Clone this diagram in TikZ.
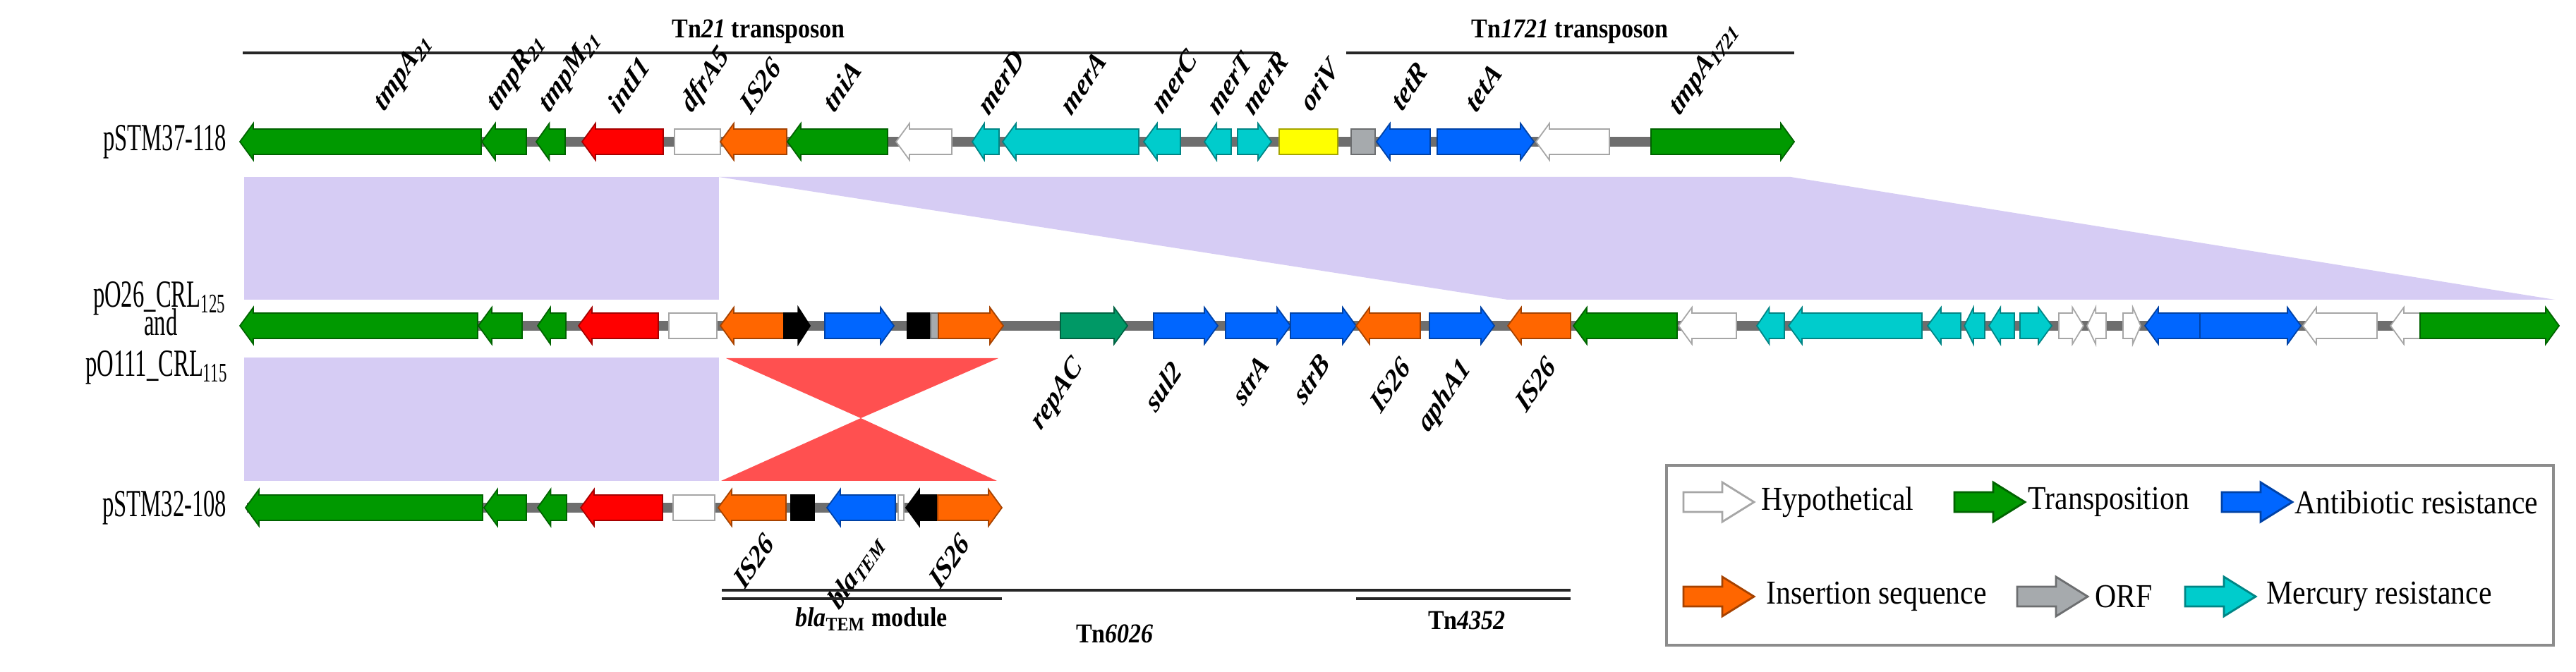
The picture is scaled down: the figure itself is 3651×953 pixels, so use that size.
\documentclass[tikz,border=0pt]{standalone}
\usepackage{fontspec}
\setmainfont{Liberation Serif}
\usepackage{xcolor}
\usepackage{graphicx}

% gene arrows: left end, right end, centre line, colour
\newcommand{\fwdgene}[4]{%
  \pgfmathsetmacro{\headlen}{min(19,0.45*(#2-#1))}
  \filldraw[gene, fill=#4, draw=#4!65!black] (#1,#3-18) -- (#2-\headlen,#3-18) -- (#2-\headlen,#3-26) -- (#2,#3) -- (#2-\headlen,#3+26) -- (#2-\headlen,#3+18) -- (#1,#3+18) -- cycle;}
\newcommand{\revgene}[4]{%
  \pgfmathsetmacro{\headlen}{min(19,0.45*(#2-#1))}
  \filldraw[gene, fill=#4, draw=#4!65!black] (#2,#3-18) -- (#1+\headlen,#3-18) -- (#1+\headlen,#3-26) -- (#1,#3) -- (#1+\headlen,#3+26) -- (#1+\headlen,#3+18) -- (#2,#3+18) -- cycle;}
\newcommand{\boxgene}[4]{%
  \filldraw[gene, fill=#4, draw=#4!65!black] (#1,#3-18) rectangle (#2,#3+18);}
% legend arrow: left end, centre line, colour
\newcommand{\keyarrow}[3]{%
  \filldraw[gene, line width=0.8pt, fill=#3, draw=#3!65!black] (#1,#2-14) -- (#1+55,#2-14) -- (#1+55,#2-28) -- (#1+100,#2) -- (#1+55,#2+28) -- (#1+55,#2+14) -- (#1,#2+14) -- cycle;}
% slanted, narrow gene names and narrow texts
\newcommand{\genename}[1]{\scalebox{0.8}[1]{\rotatebox{50}{#1}}}
\newcommand{\narrowname}[1]{\scalebox{0.6}[1]{#1}}
\newcommand{\slimtext}[1]{\scalebox{0.88}[1]{#1}}

\begin{document}
\begin{tikzpicture}[x=0.1mm, y=-0.1mm,
    gene/.style={line width=0.5pt},
    genelab/.style={font=\fontsize{12.5}{14}\selectfont\bfseries\itshape, inner sep=0pt},
    rowlab/.style={font=\fontsize{15.5}{18}\selectfont, inner sep=0pt},
    barlab/.style={font=\fontsize{11}{13}\selectfont\bfseries, inner sep=0pt},
    keylab/.style={font=\fontsize{13.5}{16}\selectfont, anchor=west, inner sep=0pt},
    bar/.style={line width=1.4pt, black!85}]
    % Define colors
    \definecolor{transgreen}{RGB}{0,153,0}
    \definecolor{intred}{RGB}{255,0,0}
    \definecolor{isorange}{RGB}{255,102,0}
    \definecolor{abblue}{RGB}{0,102,255}
    \definecolor{hgcyan}{RGB}{0,204,204}
    \definecolor{oriyellow}{RGB}{255,255,0}
    \definecolor{orfgray}{RGB}{166,170,173}
    \definecolor{repgreen}{RGB}{0,153,102}
    \definecolor{spine}{RGB}{110,110,110}
    \definecolor{homolog}{RGB}{214,204,244}
    \definecolor{invred}{RGB}{255,80,80}

    \fill[white] (0,0) rectangle (3651,953);
    \useasboundingbox (0,0) rectangle (3651,953);

    % Transposon bars on top
    \draw[bar] (344,75) -- (1807,75);
    \node[barlab] (tn21) at (1075,45) {\slimtext{Tn\textit{21} transposon}};
    \draw[bar] (1908,75) -- (2543,75);
    \node[barlab] (tn1721) at (2225,45) {\slimtext{Tn\textit{1721} transposon}};

    % Shared regions
    \fill[homolog] (346,251) rectangle (1019,425);
    \fill[homolog] (1019,251) -- (2538,251) -- (3621,425) -- (2137,425) -- cycle;
    \fill[homolog] (346,507) rectangle (1019,682);
    % Inverted blaTEM module
    \fill[invred] (1029,508) -- (1415,508) -- (1220,593) -- cycle;
    \fill[invred] (1022,682) -- (1413,682) -- (1220,593) -- cycle;

    % Row labels
    \node[rowlab, anchor=east] (p37) at (322,201) {\narrowname{pSTM37-118}};
    \node[rowlab, anchor=base] (p26) at (226,436) {\narrowname{pO26\_CRL\textsubscript{125}}};
    \node[rowlab, anchor=base] (pand) at (228,476) {\narrowname{and}};
    \node[rowlab, anchor=base] (p111) at (222,534) {\narrowname{pO111\_CRL\textsubscript{115}}};
    \node[rowlab, anchor=east] (p32) at (322,720) {\narrowname{pSTM32-108}};

    % First plasmid: pSTM37-118
    \fill[spine] (345,194) rectangle (2540,208);
    \revgene{340}{682}{201}{transgreen}
    \revgene{683}{746}{201}{transgreen}
    \revgene{760}{801}{201}{transgreen}
    \revgene{825}{940}{201}{intred}
    \boxgene{956}{1021}{201}{white}
    \revgene{1021}{1115}{201}{isorange}
    \revgene{1116}{1258}{201}{transgreen}
    \revgene{1270}{1349}{201}{white}
    \revgene{1378}{1416}{201}{hgcyan}
    \revgene{1421}{1614}{201}{hgcyan}
    \revgene{1621}{1673}{201}{hgcyan}
    \revgene{1707}{1745}{201}{hgcyan}
    \fwdgene{1754}{1802}{201}{hgcyan}
    \boxgene{1813}{1896}{201}{oriyellow}
    \boxgene{1915}{1949}{201}{orfgray}
    \revgene{1951}{2027}{201}{abblue}
    \fwdgene{2037}{2174}{201}{abblue}
    \revgene{2177}{2281}{201}{white}
    \fwdgene{2340}{2543}{201}{transgreen}

    % Gene names above the first plasmid
    \node[genelab, anchor=south west] (g1) at (526,166) {\genename{tmpA\textsubscript{21}}};
    \node[genelab, anchor=south west] (g2) at (686,166) {\genename{tmpR\textsubscript{21}}};
    \node[genelab, anchor=south west] (g3) at (760,168) {\genename{tmpM\textsubscript{21}}};
    \node[genelab, anchor=south west] (g4) at (858,164) {\genename{intI1}};
    \node[genelab, anchor=south west] (g5) at (961,168) {\genename{dfrA5}};
    \node[genelab, anchor=south west] (g6) at (1046,164) {\genename{IS26}};
    \node[genelab, anchor=south west] (g7) at (1163,162) {\genename{tniA}};
    \node[genelab, anchor=south west] (g8) at (1383,166) {\genename{merD}};
    \node[genelab, anchor=south west] (g9) at (1500,166) {\genename{merA}};
    \node[genelab, anchor=south west] (g10) at (1629,164) {\genename{merC}};
    \node[genelab, anchor=south west] (g11) at (1708,166) {\genename{merT}};
    \node[genelab, anchor=south west] (g12) at (1758,166) {\genename{merR}};
    \node[genelab, anchor=south west] (g13) at (1839,162) {\genename{oriV}};
    \node[genelab, anchor=south west] (g14) at (1969,160) {\genename{tetR}};
    \node[genelab, anchor=south west] (g15) at (2074,162) {\genename{tetA}};
    \node[genelab, anchor=south west] (g16) at (2362,172) {\genename{tmpA\textsubscript{1721}}};

    % Second plasmid: pO26_CRL125 and pO111_CRL115
    \fill[spine] (345,455) rectangle (3622,469);
    \revgene{340}{677}{462}{transgreen}
    \revgene{678}{740}{462}{transgreen}
    \revgene{762}{802}{462}{transgreen}
    \revgene{820}{933}{462}{intred}
    \boxgene{948}{1016}{462}{white}
    \revgene{1021}{1111}{462}{isorange}
    \fwdgene{1111}{1148}{462}{black}
    \fwdgene{1169}{1267}{462}{abblue}
    \boxgene{1286}{1319}{462}{black}
    \boxgene{1319}{1330}{462}{orfgray}
    \fwdgene{1330}{1422}{462}{isorange}
    \fwdgene{1503}{1598}{462}{repgreen}
    \fwdgene{1635}{1726}{462}{abblue}
    \fwdgene{1737}{1829}{462}{abblue}
    \fwdgene{1829}{1922}{462}{abblue}
    \revgene{1922}{2013}{462}{isorange}
    \fwdgene{2026}{2118}{462}{abblue}
    \revgene{2137}{2226}{462}{isorange}
    \revgene{2230}{2377}{462}{transgreen}
    \revgene{2379}{2461}{462}{white}
    \revgene{2490}{2529}{462}{hgcyan}
    \revgene{2535}{2724}{462}{hgcyan}
    \revgene{2732}{2779}{462}{hgcyan}
    \revgene{2784}{2813}{462}{hgcyan}
    \revgene{2819}{2855}{462}{hgcyan}
    \fwdgene{2863}{2908}{462}{hgcyan}
    \fwdgene{2918}{2953}{462}{white}
    \revgene{2958}{2985}{462}{white}
    \fwdgene{3009}{3034}{462}{white}
    \revgene{3040}{3118}{462}{abblue}
    \fwdgene{3118}{3261}{462}{abblue}
    \revgene{3264}{3369}{462}{white}
    \revgene{3388}{3430}{462}{white}
    \fwdgene{3430}{3627}{462}{transgreen}

    % Gene names below the second plasmid
    \node[genelab, anchor=north east] (h1) at (1542,502) {\genename{repAC}};
    \node[genelab, anchor=north east] (h2) at (1678,508) {\genename{sul2}};
    \node[genelab, anchor=north east] (h3) at (1802,500) {\genename{strA}};
    \node[genelab, anchor=north east] (h4) at (1888,498) {\genename{strB}};
    \node[genelab, anchor=north east] (h5) at (2002,503) {\genename{IS26}};
    \node[genelab, anchor=north east] (h6) at (2092,503) {\genename{aphA1}};
    \node[genelab, anchor=north east] (h7) at (2208,502) {\genename{IS26}};

    % Third plasmid: pSTM32-108
    \fill[spine] (350,713) rectangle (1415,727);
    \revgene{348}{684}{720}{transgreen}
    \revgene{686}{746}{720}{transgreen}
    \revgene{762}{803}{720}{transgreen}
    \revgene{823}{939}{720}{intred}
    \boxgene{954}{1013}{720}{white}
    \revgene{1018}{1114}{720}{isorange}
    \boxgene{1121}{1154}{720}{black}
    \revgene{1172}{1269}{720}{abblue}
    \boxgene{1273}{1281}{720}{white}
    \revgene{1284}{1329}{720}{black}
    \fwdgene{1329}{1420}{720}{isorange}

    % Gene names below the third plasmid
    \node[genelab, anchor=north east] (k1) at (1100,753) {\genename{IS26}};
    \node[genelab, anchor=north east] (k2) at (1258,751) {\genename{bla\textsubscript{TEM}}};
    \node[genelab, anchor=north east] (k3) at (1377,753) {\genename{IS26}};

    % Module and transposon bars below
    \draw[bar] (1023,837) -- (2226,837);
    \draw[bar] (1023,849) -- (1420,849);
    \draw[bar] (1922,849) -- (2226,849);
    \node[barlab] (blamod) at (1235,878) {\slimtext{\textit{bla}\textsubscript{\upshape TEM} module}};
    \node[barlab] (tn6026) at (1580,899) {\slimtext{Tn\textit{6026}}};
    \node[barlab] (tn4352) at (2079,880) {\slimtext{Tn\textit{4352}}};

    % Legend
    \draw[line width=1.2pt, black!45] (2362,660) rectangle (3619,915);
    \keyarrow{2386}{712}{white}
    \node[keylab] (kh) at (2496,712) {\slimtext{Hypothetical}};
    \keyarrow{2770}{712}{transgreen}
    \node[keylab] (kt) at (2874,712) {\slimtext{Transposition}};
    \keyarrow{3149}{712}{abblue}
    \node[keylab] (ka) at (3252,712) {\slimtext{Antibiotic resistance}};
    \keyarrow{2386}{846}{isorange}
    \node[keylab] (ki) at (2503,846) {\slimtext{Insertion sequence}};
    \keyarrow{2859}{846}{orfgray}
    \node[keylab] (ko) at (2969,846) {\slimtext{ORF}};
    \keyarrow{3097}{846}{hgcyan}
    \node[keylab] (km) at (3212,846) {\slimtext{Mercury resistance}};
\end{tikzpicture}
\end{document}
